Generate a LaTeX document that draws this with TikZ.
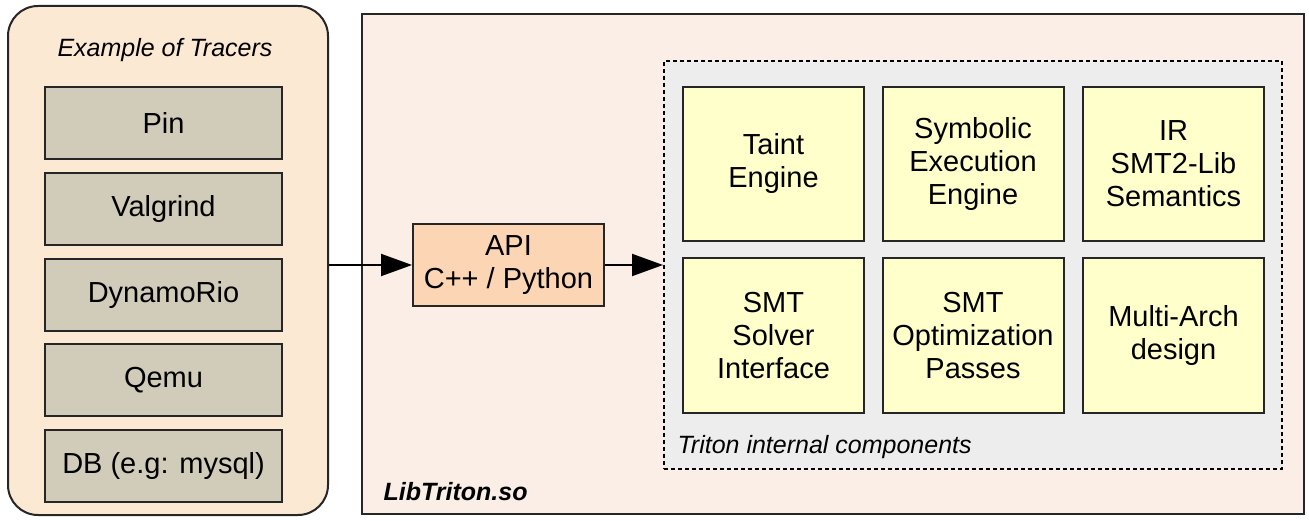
\documentclass[tikz,border=0pt]{standalone}
\usepackage{fontspec}
\setmainfont{Liberation Sans}
\usepackage{xcolor}
\usetikzlibrary{positioning,arrows.meta}

\definecolor{tracerbg}{HTML}{FCE9D3}
\definecolor{traceritem}{HTML}{D0CCB9}
\definecolor{libbg}{HTML}{FAEEE6}
\definecolor{apibg}{HTML}{FCD5B4}
\definecolor{internalbg}{HTML}{EDEDED}
\definecolor{compbg}{HTML}{FFFFCC}

\tikzset{
    bigfont/.style={font=\fontsize{29}{33}\selectfont},
    smallfont/.style={font=\fontsize{25}{29}\selectfont\itshape},
    itembox/.style={draw=black!85, line width=2pt, fill=traceritem, bigfont,
        minimum width=237, minimum height=72, inner sep=0pt},
    compbox/.style={draw=black!85, line width=2pt, fill=compbg, bigfont, align=center,
        minimum width=181, minimum height=154, inner sep=0pt},
    flow/.style={line width=2pt, -{Triangle[length=31pt,width=22pt]}}
}

\begin{document}
\begin{tikzpicture}[x=1pt, y=-1pt]
    \useasboundingbox (0,0) rectangle (1309,521);

    % Tracers panel
    \node[draw=black!85, line width=2pt, fill=tracerbg, rounded corners=30pt,
          minimum width=320, minimum height=509] (tracers) at (168,260.5) {};
    \node[smallfont] (tracerstitle) at (165,50) {Example of Tracers};
    \foreach \n/\y/\t in {pin/123/Pin, valgrind/209/Valgrind, dynamorio/295/DynamoRio,
                          qemu/380/Qemu, db/466/{DB (e.g: mysql)}} {
        \node[itembox] (\n) at (163.5,\y) {\t};
    }

    % LibTriton
    \node[draw=black!85, line width=2pt, fill=libbg,
          minimum width=942, minimum height=500] (lib) at (833,264) {};
    \node[anchor=west, font=\fontsize{25}{29}\selectfont\bfseries\itshape] (libname) at (380,492) {LibTriton.so};

    % API
    \node[draw=black!85, line width=2pt, fill=apibg, bigfont, align=center,
          minimum width=191, minimum height=82, inner sep=0pt] (api) at (508.5,265) {API\\C++ / Python};

    % Internal components
    \node[draw=black, line width=2pt, dash pattern=on 4pt off 3pt, fill=internalbg,
          minimum width=618, minimum height=408] (internal) at (973,265) {};
    \node[anchor=west, smallfont] (internalname) at (674,447) {Triton internal components};

    \node[compbox] (taint) at (773.5,164) {Taint\\Engine};
    \node[compbox] (symbolic) at (973,164) {Symbolic\\Execution\\Engine};
    \node[compbox] (ir) at (1173.5,164) {IR\\SMT2-Lib\\Semantics};
    \node[compbox] (solver) at (773.5,335.5) {SMT\\Solver\\Interface};
    \node[compbox] (optim) at (973,335.5) {SMT\\Optimization\\Passes};
    \node[compbox] (arch) at (1173.5,335.5) {Multi-Arch\\design};

    % Arrows
    \draw[flow] (tracers.east |- api.west) -- (api.west);
    \draw[flow] (api.east) -- (internal.west);
\end{tikzpicture}
\end{document}
